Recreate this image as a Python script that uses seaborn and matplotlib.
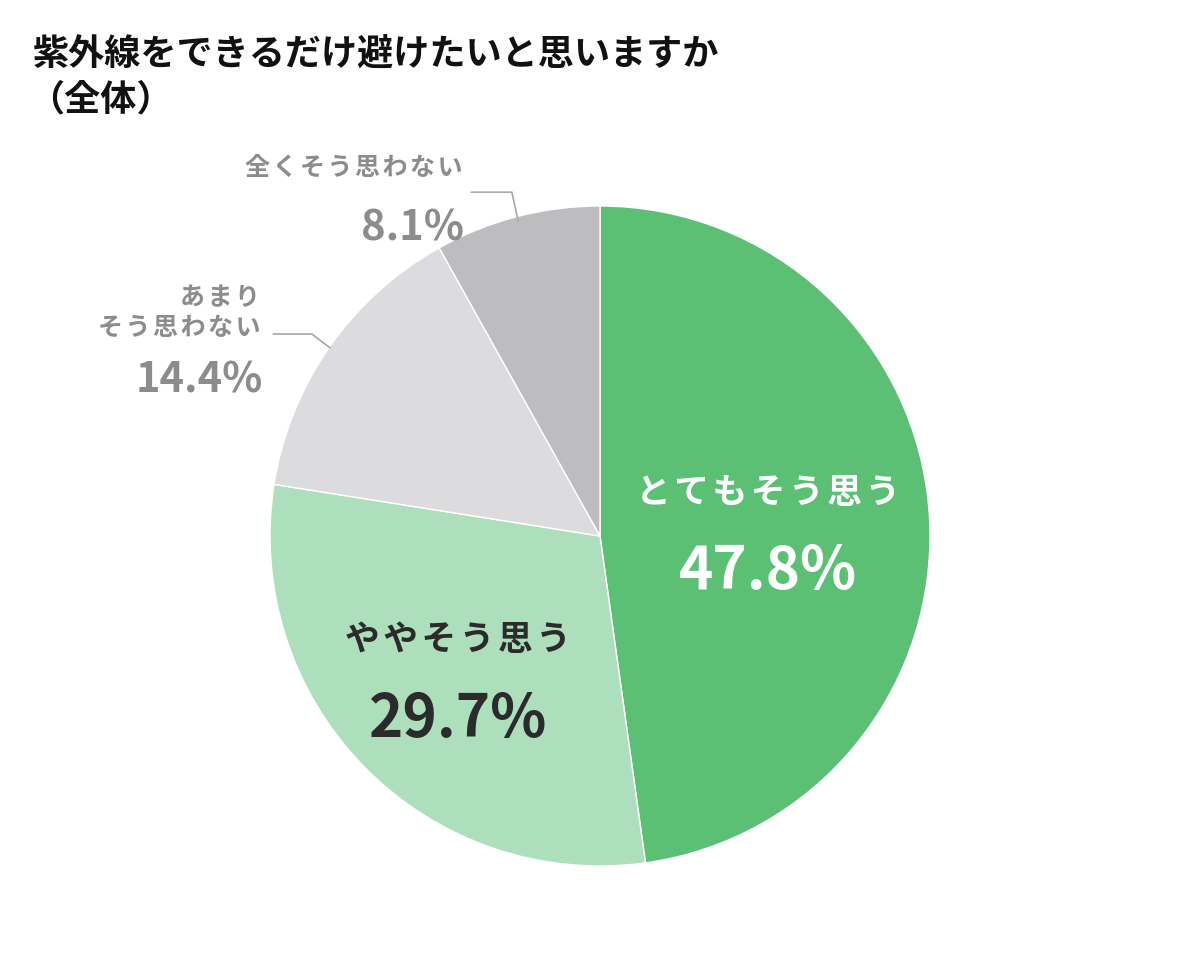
import matplotlib
matplotlib.use("Agg")
import matplotlib.pyplot as plt
import seaborn as sns

sns.set_theme(style="white")
plt.rcParams['font.family'] = ['Noto Sans CJK JP', 'DejaVu Sans']

title_line1 = "紫外線をできるだけ避けたいと思いますか"
title_line2 = "（全体）"
categories = ["とてもそう思う", "ややそう思う", "あまり\nそう思わない", "全くそう思わない"]
values = [47.8, 29.7, 14.4, 8.1]
colors = ["#5CC074", "#ADDFBD", "#DCDBDE", "#BDBCBF"]

fig = plt.figure(figsize=(12, 9.7), dpi=100)
fig.patch.set_facecolor("white")

cx, cy, r = 600, 537, 330
W, H = 1200, 970
ax = fig.add_axes([(cx - r) / W, (H - cy - r) / H, 2 * r / W, 2 * r / H])
ax.pie(values, colors=colors, startangle=90, counterclock=False, radius=1.0,
       wedgeprops=dict(edgecolor="white", linewidth=1.0))
ax.set_xlim(-1, 1)
ax.set_ylim(-1, 1)
ax.set_aspect("equal")
ax.axis("off")


def pct(v):
    return f"{v:.1f}%"


def spaced(s):
    # letter-spaced text, as in the reference
    return "\n".join("\u200a".join(line) for line in s.split("\n"))


# inside labels
ax.text(0.51, 0.136, spaced(categories[0]), ha="center", va="center", fontsize=25,
        fontweight="bold", color="white")
ax.text(0.51, -0.106, pct(values[0]), ha="center", va="center", fontsize=42,
        fontweight="bold", color="white")
ax.text(-0.43, -0.31, spaced(categories[1]), ha="center", va="center", fontsize=25,
        fontweight="bold", color="#2B2B2B")
ax.text(-0.43, -0.555, pct(values[1]), ha="center", va="center", fontsize=42,
        fontweight="bold", color="#2B2B2B")

gray = "#8C8C8C"
# outside labels
ax.text(-0.418, 1.118, spaced(categories[3]), ha="right", va="center", fontsize=18,
        fontweight="bold", color=gray)
ax.text(-0.412, 0.936, pct(values[3]), ha="right", va="center", fontsize=30,
        fontweight="bold", color=gray)
ax.text(-1.03, 0.680, spaced(categories[2]), ha="right", va="center", fontsize=18,
        fontweight="bold", color=gray, linespacing=1.3)
ax.text(-1.02, 0.475, pct(values[2]), ha="right", va="center", fontsize=30,
        fontweight="bold", color=gray)

# leader lines
ax.plot([-0.39, -0.267, -0.248], [1.042, 1.042, 0.955], color="#A8A8A8",
        lw=1.2, clip_on=False)
ax.plot([-0.99, -0.873, -0.818], [0.612, 0.612, 0.570], color="#A8A8A8",
        lw=1.2, clip_on=False)

fig.text(33 / W, 1 - 55 / H, title_line1, ha="left", va="center", fontsize=26,
         fontweight="bold", color="#111111")
fig.text(28 / W, 1 - 100 / H, title_line2, ha="left", va="center", fontsize=26,
         fontweight="bold", color="#111111")

fig.savefig("out.png", dpi=100, facecolor="white")
